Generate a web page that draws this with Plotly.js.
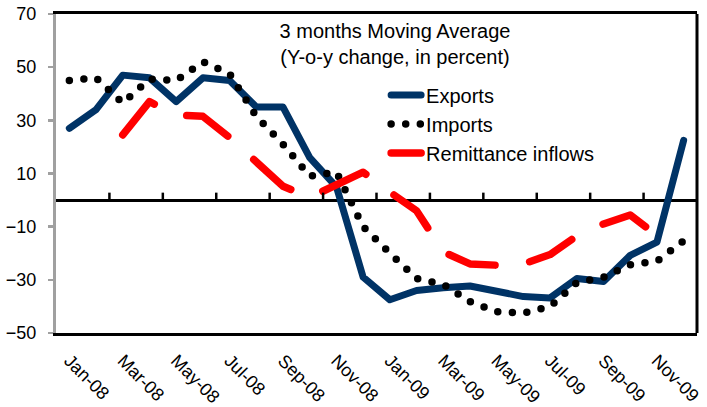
<!DOCTYPE html>
<html>
<head>
<meta charset="utf-8">
<script src="https://cdn.plot.ly/plotly-3.0.1.min.js"></script>
<style>
  html, body { margin: 0; padding: 0; background: #fff; }
  #chart { width: 707px; height: 407px; }
  .scatterlayer .js-line { stroke-linecap: round !important; stroke-linejoin: round !important; }
  .legend .js-line { stroke-linecap: round !important; }
</style>
</head>
<body>
<div id="chart"></div>
<script>
const months = ['Jan-08','Feb-08','Mar-08','Apr-08','May-08','Jun-08','Jul-08','Aug-08','Sep-08','Oct-08','Nov-08','Dec-08',
                'Jan-09','Feb-09','Mar-09','Apr-09','May-09','Jun-09','Jul-09','Aug-09','Sep-09','Oct-09','Nov-09','Dec-09'];
const tickLabels = ['Jan-08','Mar-08','May-08','Jul-08','Sep-08','Nov-08','Jan-09','Mar-09','May-09','Jul-09','Sep-09','Nov-09'];
const yTicks = [-50, -30, -10, 10, 30, 50, 70];

const exportsVals = [27, 34, 47, 46, 37, 46, 45, 35, 35, 16, 5, -29,
                     -37.5, -34, -33, -32.3, -34.3, -36.3, -36.8, -29.5, -30.6, -20.8, -15.8, 22.5];
const importsVals = [45, 46, 36.5, 45.5, 45, 52, 47.5, 31.5, 21, 9, 10.5, -10,
                     -20, -29.5, -31.7, -38.2, -42, -42.5, -40, -31, -29, -24.3, -23, -15.3];
const remitVals   = [null, null, 24.5, 37, 32, 31.5, 23.5, 14.4, 5.2, 1, 6, 10.5,
                     3, -4, -19.5, -24, -24.5, -24, -20.5, -13.5, -9, -5.6, -13.3, null];

const idx = months.map((m, i) => i);

const traces = [
  { x: idx, y: exportsVals, name: 'Exports', type: 'scatter', mode: 'lines',
    line: { color: '#003366', width: 7 } },
  { x: idx, y: importsVals, name: 'Imports', type: 'scatter', mode: 'lines',
    line: { color: '#000000', width: 7.5, dash: '0px,14.6px' } },
  { x: idx, y: remitVals, name: 'Remittance inflows', type: 'scatter', mode: 'lines',
    line: { color: '#ff0000', width: 7.5, dash: '48px,35px' }, connectgaps: false }
];

const labelPos = tickLabels.map(t => months.indexOf(t));
const boundaryTicks = labelPos.slice(1).map(p => p - 0.5);

const font = 'Arial, "Liberation Sans", sans-serif';

const yRange = [-50, 70];

// tick marks along the zero line (category boundaries, every two months)
const zeroTicks = boundaryTicks.map(b => ({
  type: 'line', xref: 'x', yref: 'y', x0: b, x1: b,
  y0: 0, y1: 2.8,
  line: { color: '#000', width: 2.5 }, layer: 'above'
}));

const layout = {
  width: 707, height: 407,
  margin: { l: 56, r: 10, t: 14, b: 74 },
  paper_bgcolor: '#fff', plot_bgcolor: '#fff',
  font: { family: font, color: '#000', size: 18 },
  showlegend: true,
  title: {
    text: '3 months Moving Average<br>(Y-o-y change, in percent)',
    x: 395 / 707, xanchor: 'center', xref: 'container',
    y: 1 - 38 / 407, yanchor: 'top',
    font: { family: font, size: 20, color: '#000' }
  },
  legend: {
    x: 0.515, y: 0.807, xanchor: 'left', yanchor: 'top',
    bgcolor: 'rgba(0,0,0,0)', borderwidth: 0,
    font: { family: font, size: 20, color: '#000' }
  },
  xaxis: {
    type: 'linear', range: [-0.5, 23.5],
    tickvals: labelPos, ticktext: tickLabels, tickangle: 45,
    ticks: '', showgrid: false, zeroline: false,
    showline: true, linecolor: '#000', linewidth: 3, mirror: true,
    tickfont: { family: font, size: 18, color: '#000' },
    ticklabelstandoff: 7
  },
  yaxis: {
    range: yRange, tickvals: yTicks,
    ticks: 'outside', ticklen: 5, tickwidth: 2.5, tickcolor: '#a0a0a0',
    showline: true, linecolor: '#a0a0a0', linewidth: 3,
    showgrid: false, zeroline: true, zerolinecolor: '#000', zerolinewidth: 3,
    tickfont: { family: font, size: 18, color: '#000' },
    ticklabelstandoff: 8
  },
  shapes: [
    { type: 'line', xref: 'paper', yref: 'paper', x0: 1, x1: 1, y0: 0, y1: 1,
      line: { color: '#000', width: 3 }, layer: 'above' }
  ].concat(zeroTicks)
};

Plotly.newPlot('chart', traces, layout, { displayModeBar: false, staticPlot: true });
</script>
</body>
</html>
